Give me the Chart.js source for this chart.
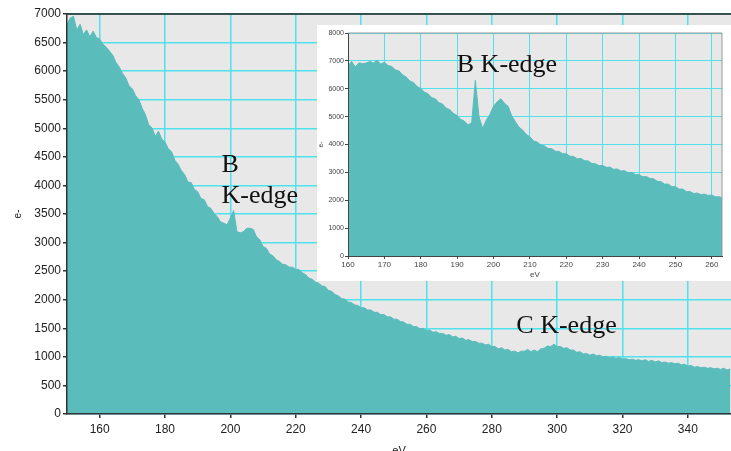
<!DOCTYPE html>
<html>
<head>
<meta charset="utf-8">
<script src="https://cdn.jsdelivr.net/npm/chart.js@4.4.4/dist/chart.umd.min.js"></script>
<style>
  html, body { margin: 0; padding: 0; background: #fff; overflow: hidden; }
  #wrap { position: relative; width: 731px; height: 451px; }
  #main { position: absolute; left: 0; top: 0; }
  #inset { position: absolute; left: 317px; top: 25px; background: #fff; }
</style>
</head>
<body>
<div id="wrap">
  <canvas id="main" width="731" height="451"></canvas>
  <canvas id="inset" width="414" height="256"></canvas>
</div>
<script>
// ─── Data ────────────────────────────────────────────────────────────────────
// Main spectrum: one value per eV channel, starting at 150 eV
const MAIN_START_EV = 150;
const mainCounts = [
  6820, 6930, 6960, 6720, 6820, 6640, 6720, 6600, 6700, 6590,
  6560, 6470, 6420, 6350, 6280, 6150, 6070, 5960, 5880, 5740,
  5690, 5570, 5500, 5350, 5240, 5060, 5010, 4860, 4950, 4810,
  4760, 4640, 4590, 4440, 4370, 4260, 4190, 4060, 4050, 3930,
  3890, 3770, 3750, 3630, 3600, 3510, 3450, 3360, 3340, 3310,
  3430, 3560, 3190, 3170, 3190, 3250, 3250, 3230, 3100, 3050,
  2930, 2900, 2800, 2770, 2700, 2670, 2620, 2610, 2570, 2570,
  2530, 2530, 2470, 2440, 2380, 2360, 2310, 2290, 2240, 2230,
  2160, 2150, 2090, 2070, 2020, 2010, 1960, 1950, 1910, 1900,
  1860, 1860, 1820, 1820, 1780, 1780, 1740, 1740, 1700, 1700,
  1660, 1660, 1620, 1610, 1570, 1570, 1530, 1530, 1490, 1500,
  1460, 1470, 1430, 1440, 1410, 1410, 1380, 1390, 1350, 1360,
  1320, 1330, 1290, 1300, 1270, 1270, 1240, 1240, 1210, 1220,
  1180, 1180, 1140, 1160, 1120, 1130, 1090, 1100, 1070, 1100,
  1100, 1130, 1090, 1120, 1090, 1140, 1150, 1190, 1180, 1220,
  1180, 1180, 1150, 1160, 1120, 1120, 1080, 1090, 1050, 1060,
  1030, 1050, 1020, 1030, 1000, 1010, 980, 1000, 970, 990,
  960, 970, 950, 960, 940, 950, 930, 950, 920, 940,
  910, 930, 900, 910, 890, 900, 880, 890, 860, 870,
  840, 850, 820, 830, 810, 820, 800, 810, 790, 800,
  780, 800, 770, 790
];

// Inset spectrum: one value per eV channel, starting at 160 eV
const INSET_START_EV = 160;
const insetCounts = [
  6820, 6980, 6780, 6930, 6900, 6920, 6980, 6920, 7020, 6880,
  6950, 6830, 6800, 6680, 6640, 6500, 6420, 6280, 6220, 6080,
  6010, 5880, 5820, 5680, 5640, 5500, 5450, 5300, 5250, 5110,
  5040, 4900, 4840, 4700, 4780, 6300, 5000, 4580, 4870, 5080,
  5370, 5530, 5640, 5480, 5370, 5030, 4820, 4620, 4520, 4360,
  4280, 4130, 4090, 3980, 3950, 3860, 3850, 3760, 3750, 3670,
  3670, 3580, 3570, 3490, 3500, 3420, 3410, 3320, 3310, 3240,
  3250, 3180, 3190, 3110, 3120, 3050, 3060, 2990, 3000, 2920,
  2920, 2840, 2850, 2780, 2770, 2680, 2670, 2580, 2580, 2490,
  2490, 2400, 2400, 2310, 2310, 2240, 2260, 2200, 2220, 2170,
  2190, 2120, 2130, 2070
];

const mainXTicks  = [160, 180, 200, 220, 240, 260, 280, 300, 320, 340];
const mainYTicks  = [0, 500, 1000, 1500, 2000, 2500, 3000, 3500, 4000, 4500, 5000, 5500, 6000, 6500, 7000];
const insetXTicks = [160, 170, 180, 190, 200, 210, 220, 230, 240, 250, 260];
const insetYTicks = [0, 1000, 2000, 3000, 4000, 5000, 6000, 7000, 8000];

// Text labels in data coordinates (eV, counts) – baseline left
const mainLabels  = [
  { text: 'B',        x: 197.3, y: 4230 },
  { text: 'K-edge',   x: 197.3, y: 3690 },
  { text: 'C K-edge', x: 287.5, y: 1416 },
];
const insetLabels = [
  { text: 'B K-edge', x: 189.9, y: 6595 },
];

// ─── Styling ─────────────────────────────────────────────────────────────────
const TEAL    = '#5bbcbc';
const PLOT_BG = '#e8e8e8';
const CYAN    = '#4fe2ec';

Chart.defaults.animation = false;
Chart.defaults.font.family = "'Liberation Sans', Arial, sans-serif";

const toPoints = (start, arr) => arr.map((v, i) => ({ x: start + i, y: v }));
const plain = v => String(v);

// Plot-area background, frame and text labels
const decor = {
  id: 'decor',
  beforeDraw(chart) {
    const { ctx, chartArea: a } = chart;
    ctx.save();
    ctx.fillStyle = PLOT_BG;
    ctx.fillRect(a.left, a.top, a.right - a.left, a.bottom - a.top);
    ctx.restore();
  },
  afterDraw(chart, args, opts) {
    const { ctx, chartArea: a, scales } = chart;
    ctx.save();
    ctx.strokeStyle = opts.frameColor;
    ctx.lineWidth = opts.frameWidth;
    ctx.beginPath();
    ctx.moveTo(a.left, a.top);
    ctx.lineTo(a.right, a.top);
    if (opts.rightFrame) ctx.lineTo(a.right, a.bottom);
    ctx.stroke();

    ctx.fillStyle = '#111';
    ctx.font = "26px 'Liberation Serif', 'Times New Roman', serif";
    ctx.textBaseline = 'alphabetic';
    ctx.textAlign = 'left';
    (opts.labels || []).forEach(l => {
      ctx.fillText(l.text, scales.x.getPixelForValue(l.x), scales.y.getPixelForValue(l.y));
    });
    ctx.restore();
  },
};

const fixedTicks = list => scale => { scale.ticks = list.map(v => ({ value: v })); };

// ─── Main chart ──────────────────────────────────────────────────────────────
new Chart(document.getElementById('main'), {
  type: 'line',
  data: {
    datasets: [{
      data: toPoints(MAIN_START_EV, mainCounts),
      borderColor: TEAL,
      backgroundColor: TEAL,
      borderWidth: 1,
      pointRadius: 0,
      fill: 'origin',
      tension: 0,
    }],
  },
  options: {
    responsive: false,
    devicePixelRatio: 1,
    layout: { padding: { top: 14, left: 0, right: 0, bottom: 0 } },
    plugins: {
      legend: { display: false },
      tooltip: { enabled: false },
      decor: { frameColor: '#222', frameWidth: 1.5, rightFrame: false, labels: mainLabels },
    },
    scales: {
      x: {
        type: 'linear',
        min: 150,
        max: 353.2,
        afterBuildTicks: fixedTicks(mainXTicks),
        afterFit: s => { s.height = 37; },
        grid: { color: CYAN, lineWidth: 1.5, tickColor: '#333', tickLength: 4 },
        border: { color: '#333', width: 1.5, z: 1 },
        ticks: { color: '#222', font: { size: 12 }, padding: 4, maxRotation: 0, callback: plain },
        title: { display: true, text: 'eV', color: '#222', font: { size: 11 }, padding: { top: 0, bottom: -7 } },
      },
      y: {
        min: 0,
        max: 7000,
        afterBuildTicks: fixedTicks(mainYTicks),
        afterFit: s => { s.width = 67; },
        grid: { color: CYAN, lineWidth: 1.5, tickColor: '#333', tickLength: 4 },
        border: { color: '#333', width: 1.5, z: 1 },
        ticks: { color: '#222', font: { size: 12 }, padding: 2, callback: plain },
        title: { display: true, text: 'e-', color: '#222', font: { size: 10 }, padding: { top: 12, bottom: 0 } },
      },
    },
  },
  plugins: [decor],
});

// ─── Inset chart ─────────────────────────────────────────────────────────────
new Chart(document.getElementById('inset'), {
  type: 'line',
  data: {
    datasets: [{
      data: toPoints(INSET_START_EV, insetCounts),
      borderColor: TEAL,
      backgroundColor: TEAL,
      borderWidth: 1,
      pointRadius: 0,
      fill: 'origin',
      tension: 0,
    }],
  },
  options: {
    responsive: false,
    devicePixelRatio: 1,
    layout: { padding: { top: 8, left: 0, right: 9, bottom: 0 } },
    plugins: {
      legend: { display: false },
      tooltip: { enabled: false },
      decor: { frameColor: '#999', frameWidth: 1, rightFrame: true, labels: insetLabels },
    },
    scales: {
      x: {
        type: 'linear',
        min: 160,
        max: 262.8,
        afterBuildTicks: fixedTicks(insetXTicks),
        afterFit: s => { s.height = 25; },
        grid: { color: CYAN, lineWidth: 1, tickColor: '#444', tickLength: 3 },
        border: { color: '#444', width: 1, z: 1 },
        ticks: { color: '#444', font: { size: 8 }, padding: 1, maxRotation: 0, callback: plain },
        title: { display: true, text: 'eV', color: '#444', font: { size: 8 }, padding: { top: 0, bottom: 1 } },
      },
      y: {
        min: 0,
        max: 8000,
        afterBuildTicks: fixedTicks(insetYTicks),
        afterFit: s => { s.width = 31; },
        grid: { color: CYAN, lineWidth: 1, tickColor: '#444', tickLength: 3 },
        border: { color: '#444', width: 1, z: 1 },
        ticks: { color: '#444', font: { size: 7 }, padding: 1, callback: plain },
        title: { display: true, text: 'e-', color: '#444', font: { size: 7 }, padding: { top: 0, bottom: 0 } },
      },
    },
  },
  plugins: [decor],
});
</script>
</body>
</html>
